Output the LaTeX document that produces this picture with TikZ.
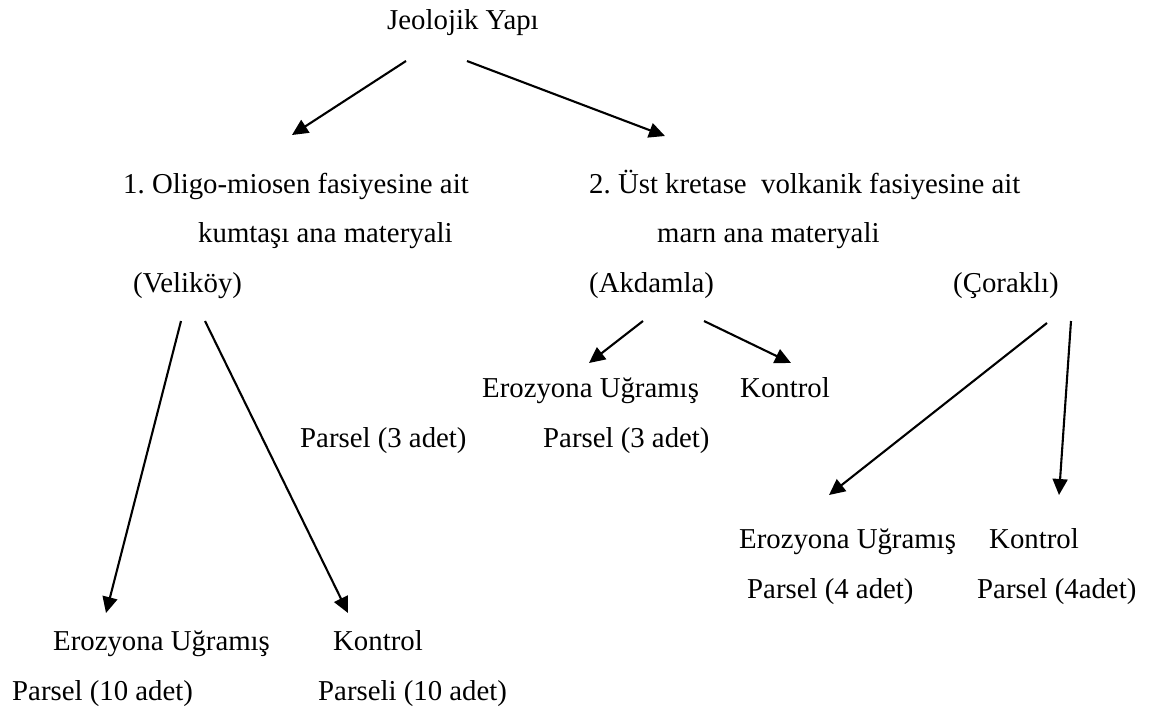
\documentclass[tikz,border=0pt]{standalone}
\usepackage{fontspec}
\setmainfont{Liberation Serif}
\usepackage{tikz}
\usetikzlibrary{arrows.meta}
\tikzstyle{txt}=[inner sep=0pt, anchor=base west]
\tikzstyle{arr}=[line width=2.1pt, -{Triangle[length=16pt,width=15pt]}]
\frenchspacing

\begin{document}
\begin{tikzpicture}[x=1pt,y=-1pt,font=\fontsize{28.8}{34}\selectfont]
\useasboundingbox (0,0) rectangle (1162,713);
% top
\node [txt] (jy) at (387,29) {Jeolojik Yapı};
% first branch
\node [txt] (o1) at (123,193) {1. Oligo-miosen fasiyesine ait};
\node [txt] (o2) at (198,242) {kumtaşı ana materyali};
\node [txt] (vel) at (133,292) {(Veliköy)};
% second branch
\node [txt] (u1) at (589,193) {2. Üst kretase~~volkanik fasiyesine ait};
\node [txt] (u2) at (657,242) {marn ana materyali};
\node [txt] (akd) at (589,292) {(Akdamla)};
\node [txt] (cor) at (953,292) {(Çoraklı)};
% Akdamla parcels
\node [txt] (akp1) at (300,447) {Parsel (3 adet)};
\node [txt] (ake) at (482,397) {Erozyona Uğramış};
\node [txt] (akk) at (740,397) {Kontrol};
\node [txt] (akp2) at (543,447) {Parsel (3 adet)};
% Velikoy parcels
\node [txt] (vee) at (53,650) {Erozyona Uğramış};
\node [txt] (vek) at (333,650) {Kontrol};
\node [txt] (vep1) at (12,700) {Parsel (10 adet)};
\node [txt] (vep2) at (318,700) {Parseli (10 adet)};
% Coraklı parcels
\node [txt] (coe) at (739,548) {Erozyona Uğramış};
\node [txt] (cok) at (989,548) {Kontrol};
\node [txt] (cop1) at (747,598) {Parsel (4 adet)};
\node [txt] (cop2) at (977,598) {Parsel (4adet)};
% arrow ends
\coordinate (jy-l) at (406,61);
\coordinate (jy-r) at (467,61);
\coordinate (o1-in) at (292,135);
\coordinate (u1-in) at (665,136);
\coordinate (vel-l) at (181,321);
\coordinate (vel-r) at (205,321);
\coordinate (vee-in) at (106,613);
\coordinate (vek-in) at (348,613);
\coordinate (akd-l) at (643,321);
\coordinate (akd-r) at (704,321);
\coordinate (ake-in) at (589,363);
\coordinate (akk-in) at (791,363);
\coordinate (cor-l) at (1047,323);
\coordinate (cor-r) at (1071,321);
\coordinate (coe-in) at (829,495);
\coordinate (cok-in) at (1059,495);
\path[arr]
(jy-l) edge (o1-in)
(jy-r) edge (u1-in)
(vel-l) edge (vee-in)
(vel-r) edge (vek-in)
(akd-l) edge (ake-in)
(akd-r) edge (akk-in)
(cor-l) edge (coe-in)
(cor-r) edge (cok-in);
\end{tikzpicture}
\end{document}
